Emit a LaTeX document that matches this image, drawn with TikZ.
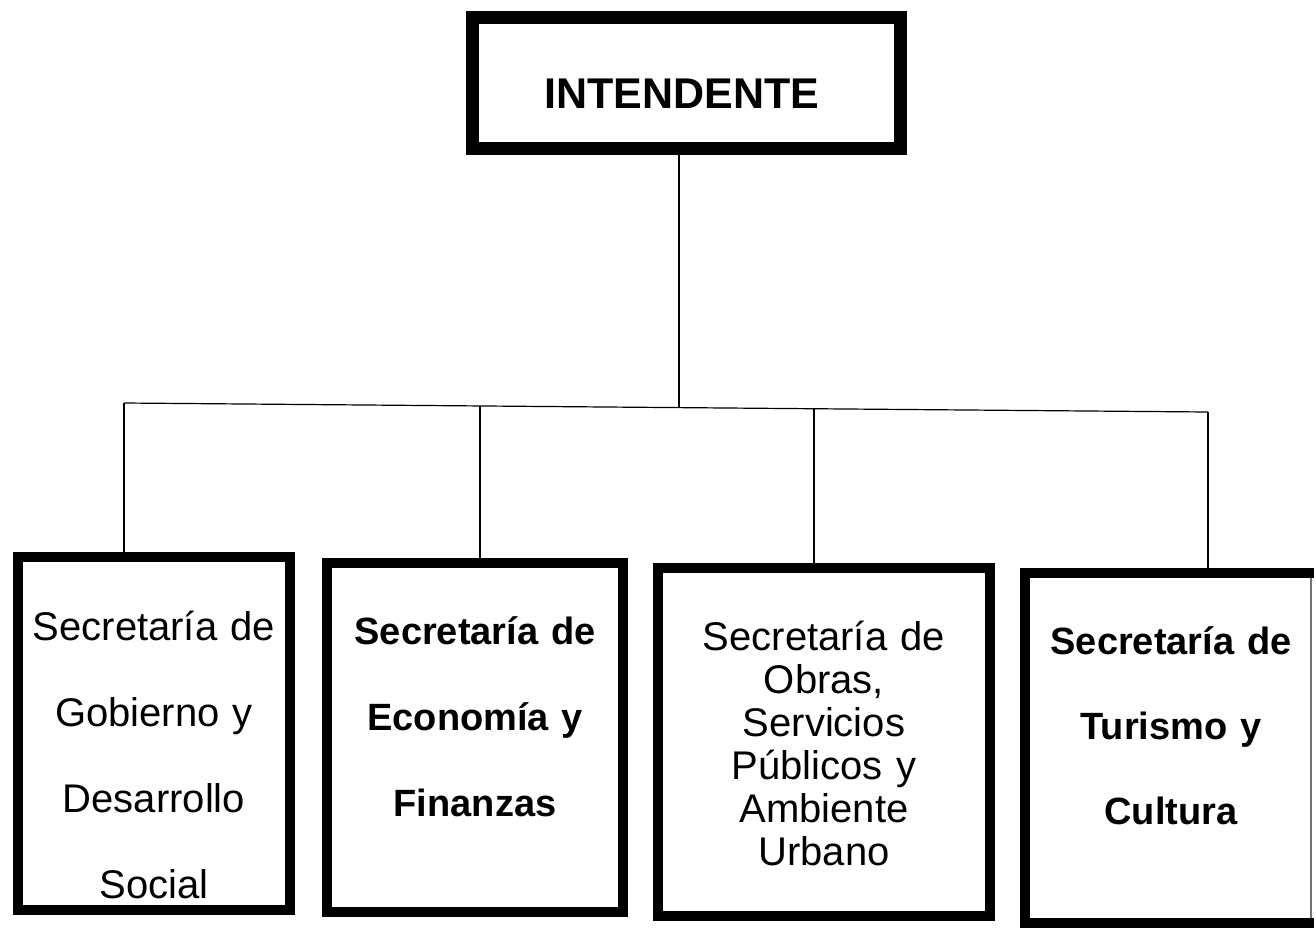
\documentclass[tikz,border=0pt]{standalone}
\usepackage{fontspec}
\setmainfont{Liberation Sans}
\begin{document}
\begin{tikzpicture}[x=1pt,y=-1pt,
  boxframe/.style={draw=black, line width=10pt, inner sep=0pt, fill=white},
  boxtext/.style={anchor=base, align=center, text width=320pt, inner sep=0pt, font=\fontsize{40}{86}\selectfont},
  conn/.style={draw=black, line width=1.2pt}
]
\useasboundingbox[fill=white] (0,0) rectangle (1316,929);

% top box
\node[boxframe, line width=13pt, minimum width=428pt, minimum height=131pt] (boss) at (686,83) {};
\node[anchor=base, inner sep=0pt, font=\fontsize{43}{50}\selectfont\bfseries] (bosst) at (682,108) {INTENDENTE};

% secretariat boxes
\node[boxframe, minimum width=272pt, minimum height=353pt] (s1) at (154,733.5) {};
\node[boxtext] (s1t) at (154,640) {Secretaría de\\Gobierno y\\Desarrollo\\Social};

\node[boxframe, minimum width=296pt, minimum height=349pt] (s2) at (475,737.5) {};
\node[boxtext, font=\fontsize{38}{86}\selectfont\bfseries] (s2t) at (475,644) {Secretaría de\\Economía y\\Finanzas};

\node[boxframe, minimum width=332pt, minimum height=348pt] (s3) at (824,742) {};
\node[boxtext, font=\fontsize{40}{43}\selectfont] (s3t) at (824,650) {Secretaría de\\Obras,\\Servicios\\Públicos y\\Ambiente\\Urbano};

\node[inner sep=0pt, minimum width=284pt, minimum height=350pt] (s4) at (1167,748) {};
\draw[line width=10pt] ([xshift=5pt]s4.north east) -- (s4.north west) -- (s4.south west) -- ([xshift=5pt]s4.south east);
\draw[line width=2pt, black!55] ([yshift=-5pt,xshift=2pt]s4.north east) -- ([yshift=5pt,xshift=2pt]s4.south east);
\node[boxtext, font=\fontsize{38}{85}\selectfont\bfseries] (s4t) at (1171,654) {Secretaría de\\Turismo y\\Cultura};

% connectors
\coordinate (m) at (679,407.6);
\coordinate (j1) at (124,403);
\coordinate (j2) at (480,406);
\coordinate (j3) at (814,409);
\coordinate (j4) at (1208,412);
\draw[conn] (m |- boss.south) -- (m);
\draw[conn] (j1) -- (j4);
\draw[conn] (j1) -- (j1 |- s1.north);
\draw[conn] (j2) -- (j2 |- s2.north);
\draw[conn] (j3) -- (j3 |- s3.north);
\draw[conn] (j4) -- (j4 |- s4.north);
\end{tikzpicture}
\end{document}
